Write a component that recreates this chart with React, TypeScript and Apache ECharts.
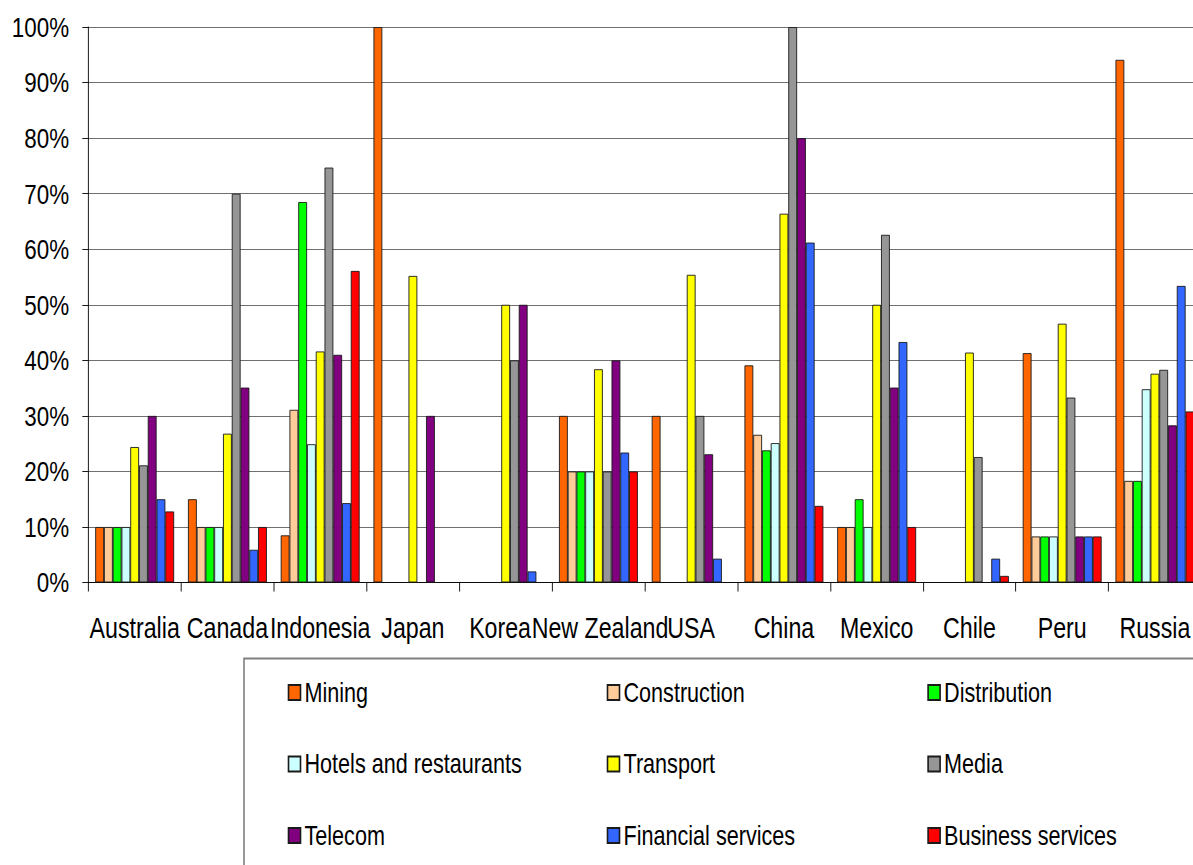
import React, { useEffect, useRef } from "react";
import * as echarts from "echarts";

// Countries along the category axis
const countries = [
  "Australia", "Canada", "Indonesia", "Japan", "Korea", "New Zealand",
  "USA", "China", "Mexico", "Chile", "Peru", "Russia",
];

// Share of sectors (%) per country; null = no bar
const mining = [10, 15, 8.5, 100, null, 30, 30, 39.1, 10, null, 41.3, 94.1];
const construction = [10, 10, 31.1, null, null, 20, null, 26.6, 10, null, 8.3, 18.3];
const distribution = [10, 10, 68.5, null, null, 20, null, 23.8, 15, null, 8.3, 18.3];
const hotels = [10, 10, 24.9, null, null, 20, null, 25.1, 10, null, 8.3, 34.8];
const transport = [24.4, 26.8, 41.6, 55.2, 50, 38.4, 55.4, 66.4, 50, 41.4, 46.6, 37.6];
const media = [21.1, 70, 74.7, null, 40, 20, 30, 100, 62.6, 22.6, 33.3, 38.3];
const telecom = [30, 35.1, 41, 30, 50, 40, 23.1, 80, 35.1, null, 8.3, 28.3];
const financial = [15, 5.9, 14.3, null, 2, 23.4, 4.3, 61.2, 43.3, 4.3, 8.3, 53.4];
const business = [12.8, 10, 56.1, null, null, 20, null, 13.8, 10, 1.2, 8.3, 30.8];

const yTicks = [0, 10, 20, 30, 40, 50, 60, 70, 80, 90, 100];

const seriesDefs = [
  { name: "Mining", color: "#FF6600", data: mining },
  { name: "Construction", color: "#FFCC99", data: construction },
  { name: "Distribution", color: "#00FF00", data: distribution },
  { name: "Hotels and restaurants", color: "#CCFFFF", data: hotels },
  { name: "Transport", color: "#FFFF00", data: transport },
  { name: "Media", color: "#969696", data: media },
  { name: "Telecom", color: "#800080", data: telecom },
  { name: "Financial services", color: "#3366FF", data: financial },
  { name: "Business services", color: "#FF0000", data: business },
];

// The chart is laid out wide and then narrowed horizontally by SX
const SX = 0.8;
const CHART_W = 1520;
const CHART_H = 865;
const FONT = "'Liberation Sans', Arial, sans-serif";

const legendColumns = [
  { left: 287.7 / SX, names: ["Mining", "Hotels and restaurants", "Telecom"] },
  { left: 606.7 / SX, names: ["Construction", "Transport", "Financial services"] },
  { left: 927.3 / SX, names: ["Distribution", "Media", "Business services"] },
];

// Nudge the two crowded neighbouring labels apart a little
const labelPadding: Record<string, number[]> = {
  Korea: [0, 14, 0, 0],
  "New Zealand": [0, 0, 0, 4],
};

export default function App() {
  const ref = useRef<HTMLDivElement>(null);

  useEffect(() => {
    if (!ref.current) return;
    const chart = echarts.init(ref.current, null, { renderer: "svg" });

    const option: any = {
      animation: false,
      backgroundColor: "#ffffff",
      grid: {
        left: 88.3 / SX,
        right: CHART_W - 1201.3 / SX,
        top: 27,
        bottom: CHART_H - 582.5,
        containLabel: false,
      },
      xAxis: {
        type: "category",
        data: countries.map((c) =>
          labelPadding[c] ? { value: c, textStyle: { padding: labelPadding[c] } } : c
        ),
        boundaryGap: true,
        axisLine: { show: true, lineStyle: { color: "#000", width: 1 } },
        axisTick: { show: true, length: 9, lineStyle: { color: "#000" } },
        axisLabel: {
          interval: 0,
          hideOverlap: false,
          margin: 31,
          color: "#000",
          fontSize: 29,
          fontFamily: FONT,
        },
        splitLine: { show: false },
      },
      yAxis: {
        type: "value",
        min: yTicks[0],
        max: yTicks[yTicks.length - 1],
        interval: 10,
        axisLine: { show: true, lineStyle: { color: "#000", width: 1 } },
        axisTick: { show: true, length: 7.5, lineStyle: { color: "#000" } },
        axisLabel: {
          formatter: "{value}%",
          margin: 24,
          color: "#000",
          fontSize: 28,
          fontFamily: FONT,
        },
        splitLine: { show: true, lineStyle: { color: "#5f5f5f", width: 1 } },
      },
      legend: legendColumns.map((col) => ({
        orient: "vertical",
        left: col.left,
        top: 677.5,
        padding: 0,
        itemWidth: 15,
        itemHeight: 15,
        itemGap: 41.5,
        icon: "rect",
        selectedMode: false,
        data: col.names,
        textStyle: {
          color: "#000",
          fontSize: 27,
          lineHeight: 24,
          fontFamily: FONT,
          padding: [6, 0, 0, 0],
        },
      })),
      graphic: [
        {
          type: "rect",
          left: 242 / SX,
          top: 656,
          shape: { width: 1400, height: 400 },
          style: { fill: "none", stroke: "#808080", lineWidth: 2 },
          silent: true,
        },
      ],
      series: seriesDefs.map((s) => ({
        name: s.name,
        type: "bar",
        data: s.data.map((v) => (v === null ? "-" : v)),
        barGap: "0%",
        barCategoryGap: "15%",
        itemStyle: { color: s.color, borderColor: "#1a1a1a", borderWidth: 1 },
        emphasis: { disabled: true },
      })),
    };

    chart.setOption(option);
    return () => chart.dispose();
  }, []);

  return (
    <div
      style={{
        position: "fixed",
        left: 0,
        top: 0,
        width: 1193,
        height: 865,
        overflow: "hidden",
        background: "#fff",
      }}
    >
      <div
        ref={ref}
        style={{
          width: CHART_W,
          height: CHART_H,
          transform: `scaleX(${SX})`,
          transformOrigin: "0 0",
        }}
      />
    </div>
  );
}
